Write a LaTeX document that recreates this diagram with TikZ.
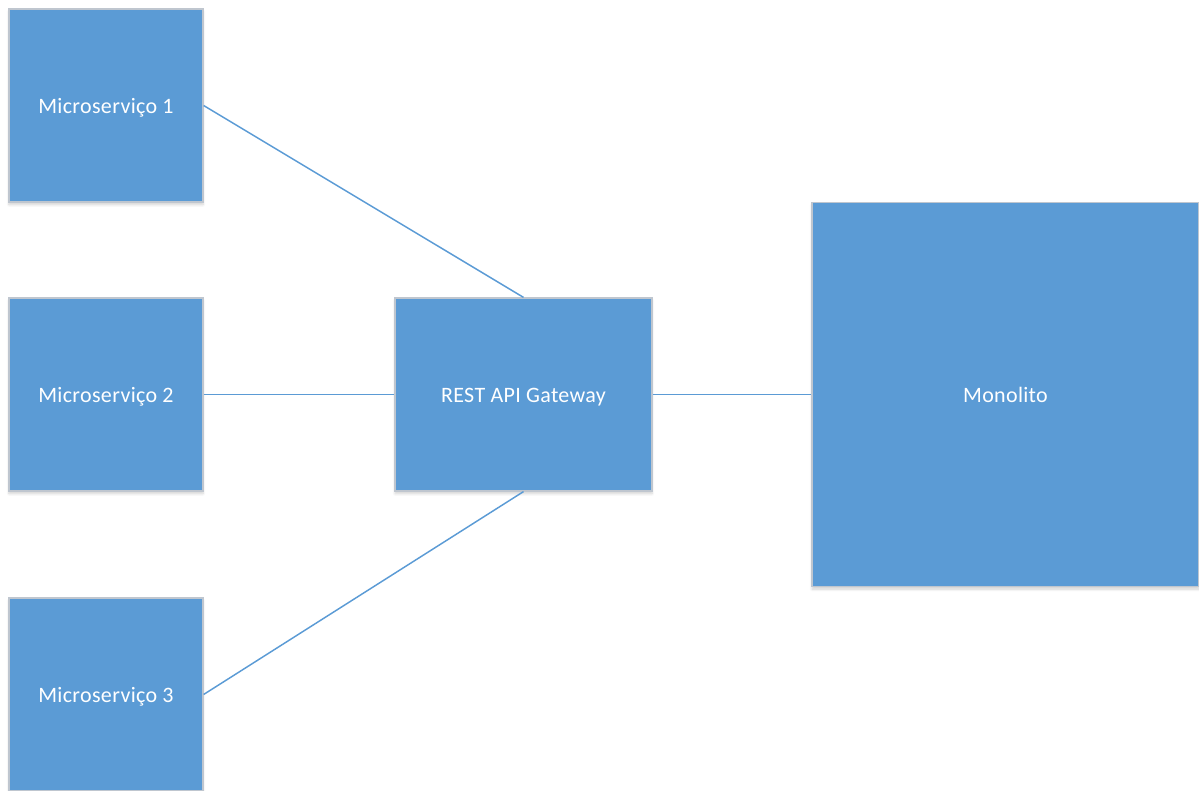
\documentclass[tikz,border=0pt]{standalone}
\usepackage{fontspec}
\setmainfont{Carlito}[LetterSpace=1.5]
\usetikzlibrary{shadows.blur}
\definecolor{boxblue}{HTML}{5B9BD5}
\definecolor{boxedge}{HTML}{BFC6CF}
\begin{document}
\begin{tikzpicture}[x=0.75pt,y=-0.75pt,
  blockbox/.style={draw=boxedge,line width=0.9pt,fill=boxblue,text=white,
    font=\fontsize{16.5}{19}\selectfont,inner sep=0pt,text height=14pt,text depth=2pt,
    blur shadow={shadow xshift=0pt,shadow yshift=-2pt,shadow blur steps=6,shadow opacity=18}},
  link/.style={draw=boxblue,line width=1.1pt}]
\useasboundingbox (0,0) rectangle (1199,791);
\begin{scope}
\clip (0,0) rectangle (1199,791);
\node[blockbox,minimum width=194*0.75pt,minimum height=193*0.75pt] (m1) at (106,105.5) {Microserviço 1};
\node[blockbox,minimum width=194*0.75pt,minimum height=193*0.75pt] (m2) at (106,394.5) {Microserviço 2};
\node[blockbox,minimum width=194*0.75pt,minimum height=193*0.75pt] (m3) at (106,694.5) {Microserviço 3};
\node[blockbox,minimum width=257*0.75pt,minimum height=193*0.75pt] (gw) at (523.5,394.5) {REST API Gateway};
\node[blockbox,minimum width=387*0.75pt,minimum height=384*0.75pt] (mono) at (1005.5,394.5) {Monolito};
\end{scope}
\draw[link] (m1.east) -- (gw.north);
\draw[link] (m2.east) -- (gw.west);
\draw[link] (m3.east) -- (gw.south);
\draw[link] (gw.east) -- (mono.west);
\end{tikzpicture}
\end{document}
